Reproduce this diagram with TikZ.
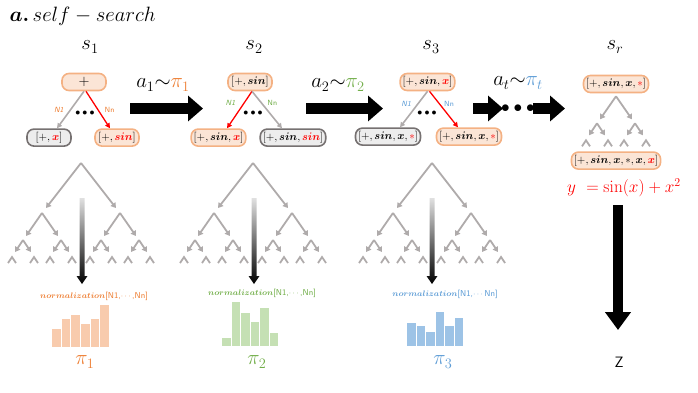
\documentclass[tikz,border=0pt]{standalone}
\usepackage{amsmath,bm}
\usetikzlibrary{arrows.meta, positioning, calc}
\usepackage{xcolor}
\definecolor{OrangeMain}{HTML}{ED7D31}
\definecolor{OrangeFill}{HTML}{FBE5D6}
\definecolor{OrangeLine}{HTML}{F4B183}
\definecolor{OrangeBar}{HTML}{F8CBAD}
\definecolor{GreenMain}{HTML}{70AD47}
\definecolor{GreenBar}{HTML}{C5E0B4}
\definecolor{BlueMain}{HTML}{5B9BD5}
\definecolor{BlueBar}{HTML}{9DC3E6}
\definecolor{DeadFill}{HTML}{EDEDED}
\definecolor{DeadLine}{HTML}{767171}
\definecolor{TreeGray}{HTML}{AFABAB}
\definecolor{PickRed}{HTML}{FF0000}

\begin{document}
\begin{tikzpicture}[x=1pt, y=-1pt,
    expr/.style={
        draw=OrangeLine, fill=OrangeFill, line width=1.6pt, rounded corners=7pt,
        minimum width=44pt, minimum height=17pt, inner xsep=2.5pt, inner ysep=1pt,
        font=\fontsize{11}{12}\selectfont
    },
    dead/.style={expr, draw=DeadLine, fill=DeadFill},
    branch/.style={draw=TreeGray, line width=1.8pt, -{Triangle[length=5pt, width=6pt]}},
    stub/.style={draw=TreeGray, line width=1.8pt},
    chosen/.style={draw=PickRed, line width=1.3pt, -{Triangle[length=5pt, width=5pt]}},
    prune/.style={draw=TreeGray, line width=1.6pt, -{Triangle[length=5pt, width=5pt]}},
    bigarr/.style={line width=11pt, -{Triangle[length=15pt, width=25pt]}},
    nlbl/.style={font=\fontsize{7.5}{8}\selectfont\sffamily, inner sep=1pt},
    state/.style={font=\fontsize{20}{24}\selectfont},
    act/.style={font=\fontsize{20}{24}\selectfont},
    more/.style={font=\fontsize{10}{10}\selectfont, inner sep=0pt},
    norm/.style={font=\fontsize{8.5}{10}\selectfont, inner sep=1pt},
    bar/.style={draw=white, line width=0.8pt},
    subtree/.pic={
        \foreach \s in {-1,1} {
            \draw[branch] (0,0) -- ({\s*16},23);
            \foreach \t in {-1,1} {
                \draw[branch] ({\s*19},27) -- ({\s*19+\t*8},39);
                \draw[stub] ({\s*19+\t*11-4},50) -- ({\s*19+\t*11},44) -- ({\s*19+\t*11+4},50);
            }
        }
    },
    searchtree/.pic={
        \draw[branch] (0,0) -- (-35,45);
        \draw[branch] (0,0) -- (35,45);
        \pic at (-39,50) {subtree};
        \pic at (39,50) {subtree};
    }
]
\useasboundingbox (0,0) rectangle (698,392);

% =============================================
% TITLE AND STATES
% =============================================
\node[anchor=west, font=\fontsize{21}{24}\selectfont] (title) at (6,16) {$\bm{a.}\,self-search$};

\node[state] (s1) at (90,47) {$s_1$};
\node[state] (s2) at (254,47) {$s_2$};
\node[state] (s3) at (431,47) {$s_3$};
\node[state] (sr) at (615,47) {$s_r$};

% =============================================
% STAGE 1
% =============================================
\node[expr, font=\fontsize{14}{14}\selectfont] (root1) at (84,82) {$+$};
\node[dead, below=37pt of root1, xshift=-35pt] (dead1) {$[+,\textcolor{PickRed}{\bm{x}}]$};
\node[expr, below=37pt of root1, xshift=33pt] (keep1) {$[+,\textcolor{PickRed}{\bm{sin}}]$};

\draw[prune] (root1.south) -- ([xshift=8pt]dead1.north)
    node[nlbl, text=OrangeMain, midway, left=5pt] {\textit{N1}};
\draw[chosen] ([xshift=2pt]root1.south) -- ([xshift=-7pt]keep1.north)
    node[nlbl, text=OrangeMain, midway, right=5pt] {Nn};
\node[more] (more1) at (85,113) {$\bullet\bullet\bullet$};

% =============================================
% STAGE 2
% =============================================
\node[expr] (root2) at (250,82) {$[+,\bm{sin}]$};
\node[expr, below=37pt of root2, xshift=-31.5pt] (keep2) {$[+,\bm{sin},\textcolor{PickRed}{\bm{x}}]$};
\node[dead, below=37pt of root2, xshift=43pt] (dead2) {$[+,\bm{sin},\textcolor{PickRed}{\bm{sin}}]$};

\draw[chosen] ([xshift=2pt]root2.south) -- ([xshift=8.5pt]keep2.north)
    node[nlbl, text=GreenMain, pos=0.32, left=7pt] {\textit{N1}};
\draw[prune] ([xshift=2pt]root2.south) -- ([xshift=-11pt]dead2.north)
    node[nlbl, text=GreenMain, pos=0.32, right=4pt] {Nn};
\node[more] (more2) at (253,113) {$\bullet\bullet\bullet$};

% =============================================
% STAGE 3
% =============================================
\node[expr] (root3) at (427.5,82) {$[+,\bm{sin},\textcolor{PickRed}{\bm{x}}]$};
\node[dead, below=36pt of root3, xshift=-39.5pt] (dead3) {$[+,\bm{sin},\bm{x},\textcolor{PickRed}{\ast}]$};
\node[expr, below=36pt of root3, xshift=41.5pt] (keep3) {$[+,\bm{sin},\bm{x},\textcolor{PickRed}{\ast}]$};

\draw[prune] (root3.south) -- ([xshift=12pt]dead3.north)
    node[nlbl, text=BlueMain, pos=0.35, left=5pt] {\textit{N1}};
\draw[chosen] ([xshift=2pt]root3.south) -- ([xshift=-11pt]keep3.north)
    node[nlbl, text=BlueMain, pos=0.35, right=3pt] {Nn};
\node[more] (more3) at (427,113) {$\bullet\bullet\bullet$};

% =============================================
% FINAL STATE
% =============================================
\node[expr] (rootr) at (616,84) {$[+,\bm{sin},\bm{x},\textcolor{PickRed}{\ast}]$};
\pic at ([yshift=-3pt]rootr.south) {subtree};
\node[expr, below=58pt of rootr] (final) {$[+,\bm{sin},\bm{x},\ast,\bm{x},\textcolor{PickRed}{\bm{x}}]$};
\node[font=\fontsize{18}{20}\selectfont, text=PickRed, below=5pt of final, xshift=8pt] (eq) {$y\ =\sin(x)+x^2$};

% =============================================
% ACTIONS BETWEEN STATES
% =============================================
\node[act] (act1) at (163,85) {$a_1{\sim}\textcolor{OrangeMain}{\pi_1}$};
\node[act] (act2) at (338,85) {$a_2{\sim}\textcolor{GreenMain}{\pi_2}$};
\node[act] (act3) at (518,83) {$a_t{\sim}\textcolor{BlueMain}{\pi_t}$};

\coordinate (go1s) at (130,108.5); \coordinate (go1e) at (203,108.5);
\coordinate (go2s) at (306,108.5); \coordinate (go2e) at (383,108.5);
\coordinate (go3s) at (473,108.5); \coordinate (go3e) at (503,108.5);
\coordinate (go4s) at (533,108.5); \coordinate (go4e) at (565,108.5);
\draw[bigarr] (go1s) -- (go1e);
\draw[bigarr] (go2s) -- (go2e);
\draw[bigarr] (go3s) -- (go3e);
\draw[bigarr] (go4s) -- (go4e);
\node[more, font=\fontsize{18}{18}\selectfont] (moret) at (518,108.5) {$\bullet\bullet\bullet$};

% =============================================
% SEARCH TREES AND POLICIES
% =============================================
\pic at (81,163) {searchtree};
\pic at (253,163) {searchtree};
\pic at (432,163) {searchtree};

\foreach \gx/\n in {82/1, 254/2, 432/3} {
    \coordinate (fall\n) at (\gx,198);
    \coordinate (tip\n) at (\gx,284);
    \shade[top color=black!12, bottom color=black]
        ($(fall\n)+(-2.5,0)$) -- ($(fall\n)+(2.5,0)$) -- ($(tip\n)+(2.5,-8)$) -- ($(tip\n)+(5.5,-8)$)
        -- (tip\n) -- ($(tip\n)+(-5.5,-8)$) -- ($(tip\n)+(-2.5,-8)$) -- cycle;
}

\node[norm, text=OrangeMain] (norm1) at (94,296) {$\bm{normalization}$\textsf{[N1,$\cdots$,Nn]}};
\node[norm, text=GreenMain] (norm2) at (262,293) {$\bm{normalization}$\textsf{[N1,$\cdots$,Nn]}};
\node[norm, text=BlueMain] (norm3) at (445,294) {$\bm{normalization}$\textsf{[N1,$\cdots$Nn]}};

\foreach \h [count=\i] in {19,29,33,24,29,43}
    \filldraw[bar, fill=OrangeBar] ({51.5+(\i-1)*9.6},347) rectangle ++(9.6,-\h);
\foreach \h [count=\i] in {9,45,34,25,39,14}
    \filldraw[bar, fill=GreenBar] ({221.5+(\i-1)*9.5},346) rectangle ++(9.5,-\h);
\foreach \h [count=\i] in {24,21,15,35,21,29}
    \filldraw[bar, fill=BlueBar] ({406.5+(\i-1)*9.5},346) rectangle ++(9.5,-\h);

\node[state, text=OrangeMain] (pi1) at (85,362) {$\pi_1$};
\node[state, text=GreenMain] (pi2) at (257,362) {$\pi_2$};
\node[state, text=BlueMain] (pi3) at (443,362) {$\pi_3$};

% =============================================
% RIGHT: result
% =============================================
\coordinate (outs) at (618,205);
\coordinate (oute) at (618,330);
\draw[line width=10pt, -{Triangle[length=18pt, width=25pt]}] (outs) -- (oute);
\node[font=\fontsize{15}{18}\selectfont\sffamily] (z) at (619,362) {Z};

\end{tikzpicture}
\end{document}
